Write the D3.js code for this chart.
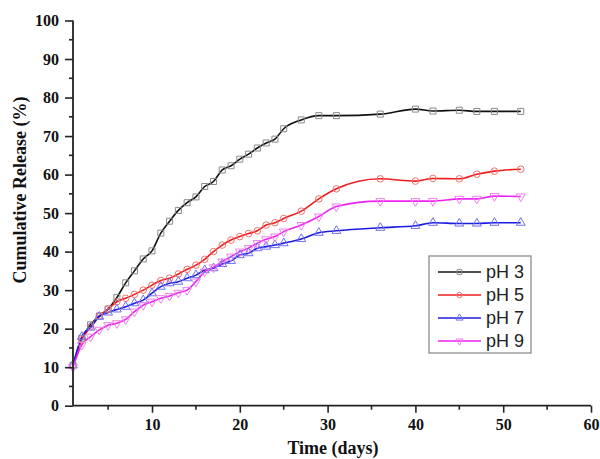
<!DOCTYPE html>
<html>
<head>
<meta charset="utf-8">
<script src="https://cdn.jsdelivr.net/npm/d3@7"></script>
<style>
  html, body { margin: 0; padding: 0; background: #fff; }
  svg { display: block; }
</style>
</head>
<body>
<div id="chart"></div>
<script>
// sampling days (shared by all series)
const days = [1, 2, 3, 4, 5, 6, 7, 8, 9, 10, 11, 12, 13, 14, 15, 16, 17, 18, 19, 20,
  21, 22, 23, 24, 25, 27, 29, 31, 36, 40, 42, 45, 47, 49, 52];

const ph3 = [10.5, 17.5, 21.0, 23.3, 25.1, 28.1, 31.9, 35.0, 38.1, 40.2, 44.8, 47.9, 50.7, 52.7, 54.2, 56.9, 58.2, 61.2, 62.3, 64.0,
  65.3, 66.9, 68.2, 69.2, 71.9, 74.2, 75.3, 75.3, 75.7, 77.0, 76.5, 76.7, 76.4, 76.4, 76.4];
const ph5 = [10.5, 17.1, 20.5, 23.3, 25.1, 27.0, 27.9, 28.9, 30.0, 31.3, 32.5, 33.1, 34.2, 35.4, 36.5, 38.0, 40.0, 41.7, 43.0, 43.9,
  44.7, 45.4, 46.9, 47.5, 48.6, 50.5, 53.7, 56.3, 58.9, 58.3, 59.0, 58.9, 60.1, 60.9, 61.4];
const ph7 = [10.5, 17.9, 20.3, 23.1, 24.2, 25.0, 25.7, 26.6, 27.4, 29.2, 30.9, 31.8, 32.2, 33.1, 33.9, 35.2, 35.7, 36.8, 37.6, 39.1,
  39.6, 40.9, 41.3, 41.7, 42.2, 43.3, 44.9, 45.4, 46.2, 46.7, 47.5, 47.3, 47.3, 47.5, 47.5];
const ph9 = [10.0, 15.8, 17.9, 19.7, 20.9, 21.4, 22.4, 24.4, 26.1, 27.0, 27.9, 28.5, 29.3, 30.0, 32.2, 34.8, 35.9, 37.4, 38.7, 40.0,
  40.9, 42.2, 43.2, 43.9, 45.2, 46.9, 49.1, 51.7, 53.1, 53.1, 53.1, 53.7, 53.7, 54.4, 54.3];

const seriesNames = ["pH 3", "pH 5", "pH 7", "pH 9"];
const xTicks = [10, 20, 30, 40, 50, 60];
const yTicks = [0, 10, 20, 30, 40, 50, 60, 70, 80, 90, 100];

const SERIF = "'Liberation Serif', 'Times New Roman', serif";
const SANS = "'Liberation Sans', Arial, sans-serif";

const styles = [
  { line: "#111111", mark: "#8a8a8a", symbol: d3.symbolSquare, rot: 0 },
  { line: "#ee1c1c", mark: "#f07070", symbol: d3.symbolCircle, rot: 0 },
  { line: "#1c1ce0", mark: "#7070f0", symbol: d3.symbolTriangle, rot: 0 },
  { line: "#ee22ee", mark: "#f080f0", symbol: d3.symbolTriangle, rot: 180 }
];

const series = [ph3, ph5, ph7, ph9].map((vals, i) => ({
  name: seriesNames[i],
  style: styles[i],
  points: days.map((d, j) => ({ t: d, v: vals[j] }))
}));

const width = 600, height = 459;
const svg = d3.select("#chart").append("svg").attr("width", width).attr("height", height);

const x = d3.scaleLinear().domain([1, 60]).range([73, 591]);
const y = d3.scaleLinear().domain([0, 100]).range([405.7, 20.5]);

const axisColor = "#222";

// lines
const line = d3.line().x(d => x(d.t)).y(d => y(d.v)).curve(d3.curveMonotoneX);

series.forEach(s => {
  svg.append("path")
    .datum(s.points)
    .attr("fill", "none")
    .attr("stroke", s.style.line)
    .attr("stroke-width", 1.6)
    .attr("d", line);
});

// markers
series.forEach(s => {
  const sym = d3.symbol().type(s.style.symbol).size(s.style.symbol === d3.symbolSquare ? 36 : 34);
  svg.append("g").selectAll("path")
    .data(s.points)
    .join("path")
    .attr("d", sym)
    .attr("transform", d => `translate(${x(d.t)},${y(d.v)}) rotate(${s.style.rot})`)
    .attr("fill", "none")
    .attr("stroke", s.style.mark)
    .attr("stroke-width", 1);
});

function styleTicks(g) {
  g.selectAll(".tick line").attr("stroke", axisColor).attr("stroke-width", 1.6);
  g.selectAll(".tick text")
    .attr("fill", "#111")
    .style("font-family", SERIF)
    .style("font-weight", "bold")
    .style("font-size", "16px");
}

// Y axis
const yMinor = d3.range(5, 100, 10);
const gy = svg.append("g").attr("transform", `translate(${x(1)},0)`);
gy.call(d3.axisLeft(y).tickValues(yTicks).tickSize(8).tickPadding(6).tickFormat(d3.format("d")))
  .call(g => g.select(".domain").attr("stroke", axisColor).attr("stroke-width", 1.8).attr("d", `M0,${y(0)}V${y(100)}`))
  .call(styleTicks);
gy.selectAll(".minor").data(yMinor).join("line")
  .attr("class", "minor")
  .attr("x1", 0).attr("x2", -4)
  .attr("y1", d => y(d)).attr("y2", d => y(d))
  .attr("stroke", axisColor).attr("stroke-width", 1.6);

// X axis
const xMinor = d3.range(5, 60, 10);
const gx = svg.append("g").attr("transform", `translate(0,${y(0)})`);
gx.call(d3.axisBottom(x).tickValues(xTicks).tickSize(7).tickPadding(6).tickFormat(d3.format("d")))
  .call(g => g.select(".domain").attr("stroke", axisColor).attr("stroke-width", 1.8).attr("d", `M${x(1)},0H${x(60)}`))
  .call(styleTicks);
gx.selectAll(".minor").data(xMinor).join("line")
  .attr("class", "minor")
  .attr("x1", d => x(d)).attr("x2", d => x(d))
  .attr("y1", 0).attr("y2", 4)
  .attr("stroke", axisColor).attr("stroke-width", 1.6);

// axis titles
svg.append("text")
  .attr("text-anchor", "middle")
  .attr("transform", "translate(26,190) rotate(-90)")
  .style("font-family", SERIF).style("font-weight", "bold").style("font-size", "18px")
  .attr("fill", "#111")
  .text("Cumulative Release (%)");

svg.append("text")
  .attr("text-anchor", "middle")
  .attr("x", 333)
  .attr("y", 454)
  .style("font-family", SERIF).style("font-weight", "bold").style("font-size", "18px")
  .attr("fill", "#111")
  .text("Time (days)");

// legend
const legend = svg.append("g").attr("transform", "translate(429,256)");
legend.append("rect")
  .attr("width", 102).attr("height", 97)
  .attr("fill", "#fff").attr("stroke", "#8c8c8c").attr("stroke-width", 1.3);

series.forEach((s, i) => {
  const ly = 16 + i * 23;
  const row = legend.append("g").attr("transform", `translate(0,${ly})`);
  row.append("line").attr("x1", 9).attr("x2", 52).attr("y1", 0).attr("y2", 0)
    .attr("stroke", s.style.line).attr("stroke-width", 1.6);
  row.append("path")
    .attr("d", d3.symbol().type(s.style.symbol).size(22))
    .attr("transform", `translate(30.5,0) rotate(${s.style.rot})`)
    .attr("fill", "none").attr("stroke", s.style.mark).attr("stroke-width", 1);
  row.append("text")
    .attr("x", 57).attr("y", 0).attr("dy", "0.35em")
    .style("font-family", SANS).style("font-size", "18px")
    .attr("fill", "#222")
    .text(s.name);
});
</script>
</body>
</html>
